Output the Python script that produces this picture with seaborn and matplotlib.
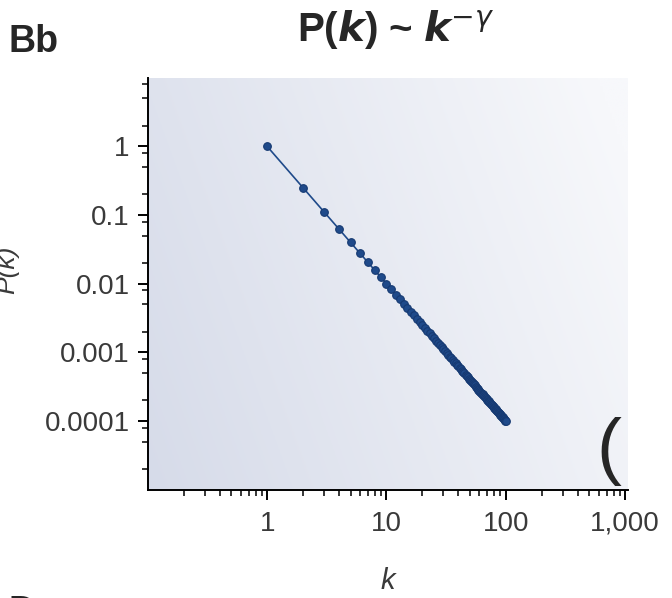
import numpy as np
import pandas as pd
import seaborn as sns
import matplotlib.pyplot as plt
from matplotlib.ticker import FixedLocator, FixedFormatter, LogLocator, NullFormatter

# degree k and probability P(k) (straight line, slope -2)
k = [1, 2, 3, 4, 5, 6, 7, 8, 9, 10, 11, 12, 13, 14, 15, 16, 17, 18, 19, 20,
     21, 22, 23, 24, 25, 26, 27, 28, 29, 30, 31, 32, 33, 34, 35, 36, 37, 38, 39, 40,
     41, 42, 43, 44, 45, 46, 47, 48, 49, 50, 51, 52, 53, 54, 55, 56, 57, 58, 59, 60,
     61, 62, 63, 64, 65, 66, 67, 68, 69, 70, 71, 72, 73, 74, 75, 76, 77, 78, 79, 80,
     81, 82, 83, 84, 85, 86, 87, 88, 89, 90, 91, 92, 93, 94, 95, 96, 97, 98, 99, 100]
pk = [1.0, 0.25, 0.1111, 0.0625, 0.04, 0.02778, 0.02041, 0.01563, 0.01235, 0.01,
      0.008264, 0.006944, 0.005917, 0.005102, 0.004444, 0.003906, 0.00346, 0.003086, 0.00277, 0.0025,
      0.002268, 0.002066, 0.00189, 0.001736, 0.0016, 0.001479, 0.001372, 0.001276, 0.001189, 0.001111,
      0.001041, 0.0009766, 0.0009183, 0.000865, 0.0008163, 0.0007716, 0.0007305, 0.0006925, 0.0006575, 0.000625,
      0.0005949, 0.0005669, 0.0005408, 0.0005165, 0.0004938, 0.0004726, 0.0004527, 0.000434, 0.0004165, 0.0004,
      0.0003845, 0.0003698, 0.000356, 0.0003429, 0.0003306, 0.0003189, 0.0003078, 0.0002973, 0.0002873, 0.0002778,
      0.0002687, 0.0002601, 0.000252, 0.0002441, 0.0002367, 0.0002296, 0.0002228, 0.0002163, 0.00021, 0.0002041,
      0.0001984, 0.0001929, 0.0001877, 0.0001826, 0.0001778, 0.0001731, 0.0001687, 0.0001644, 0.0001602, 0.0001563,
      0.0001524, 0.0001487, 0.0001452, 0.0001417, 0.0001384, 0.0001352, 0.0001321, 0.0001291, 0.0001262, 0.0001235,
      0.0001208, 0.0001181, 0.0001156, 0.0001132, 0.0001108, 0.0001085, 0.0001063, 0.0001041, 0.000102, 0.0001]

xticks = [1, 10, 100, 1000]
xticklabels = ['1', '10', '100', '1,000']
yticks = [1, 0.1, 0.01, 0.001, 0.0001]
yticklabels = ['1', '0.1', '0.01', '0.001', '0.0001']

df = pd.DataFrame({'k': k, 'P': pk})

sns.set_theme(style='ticks')
plt.rcParams['font.family'] = ['Liberation Sans', 'DejaVu Sans']

fig = plt.figure(figsize=(6.72, 5.98), dpi=100)
pos = [0.220, 0.181, 0.714, 0.689]

# gradient background behind the plot area
bg = fig.add_axes(pos, zorder=0)
xx, yy = np.meshgrid(np.linspace(0, 1, 200), np.linspace(0, 1, 200))
t = np.clip(0.8 * xx + 0.25 * yy, 0, 1)
c0 = np.array([214, 219, 233]) / 255
c1 = np.array([247, 248, 251]) / 255
img = c0[None, None, :] * (1 - t[..., None]) + c1[None, None, :] * t[..., None]
bg.imshow(img, origin='lower', extent=[0, 1, 0, 1], aspect='auto')
bg.set_axis_off()

ax = fig.add_axes(pos, zorder=1)
ax.set_facecolor('none')
sns.lineplot(data=df, x='k', y='P', ax=ax, color='#1f4a8a', linewidth=1.2,
             marker='o', markersize=5.5, markerfacecolor='#1f4a8a',
             markeredgecolor='#163a72', markeredgewidth=0.8)
ax.set_xscale('log')
ax.set_yscale('log')
ax.set_xlim(0.1, 1050)
ax.set_ylim(1e-5, 10)

ax.xaxis.set_major_locator(FixedLocator(xticks))
ax.xaxis.set_major_formatter(FixedFormatter(xticklabels))
ax.xaxis.set_minor_locator(LogLocator(base=10, subs=np.arange(2, 10)))
ax.xaxis.set_minor_formatter(NullFormatter())
ax.yaxis.set_major_locator(FixedLocator(yticks))
ax.yaxis.set_major_formatter(FixedFormatter(yticklabels))
ax.yaxis.set_minor_locator(LogLocator(base=10, subs=(2, 5, 8)))
ax.yaxis.set_minor_formatter(NullFormatter())

for s in ['top', 'right']:
    ax.spines[s].set_visible(False)
for s in ['left', 'bottom']:
    ax.spines[s].set_linewidth(1.4)
    ax.spines[s].set_color('black')
ax.tick_params(which='major', direction='out', length=7, width=1.4,
               color='black', labelsize=20, labelcolor='#3a3a3a')
ax.tick_params(axis='x', which='major', pad=8)
ax.tick_params(axis='y', which='major', pad=6)
ax.tick_params(which='minor', direction='out', length=4, width=1.1, color='black')

ax.set_xlabel('k', fontsize=21, style='italic', color='#3a3a3a', labelpad=22)
ax.set_ylabel('')

fig.text(0.011, 0.548, 'P(k)', rotation=90, fontsize=19, style='italic',
         color='#3a3a3a', ha='center', va='center')
fig.text(0.588, 0.950, r'P($\mathbfit{k}$) ~ $\mathbfit{k}^{-\gamma}$',
         fontsize=29, fontweight='bold', ha='center', va='center')
fig.text(0.012, 0.930, 'Bb', fontsize=27, fontweight='heavy', ha='left', va='center')
fig.text(0.888, 0.245, '(', fontsize=54, ha='left', va='center')
fig.text(0.012, -0.025, 'D', fontsize=27, fontweight='heavy', ha='left', va='center')

fig.savefig('out.png', dpi=100)
